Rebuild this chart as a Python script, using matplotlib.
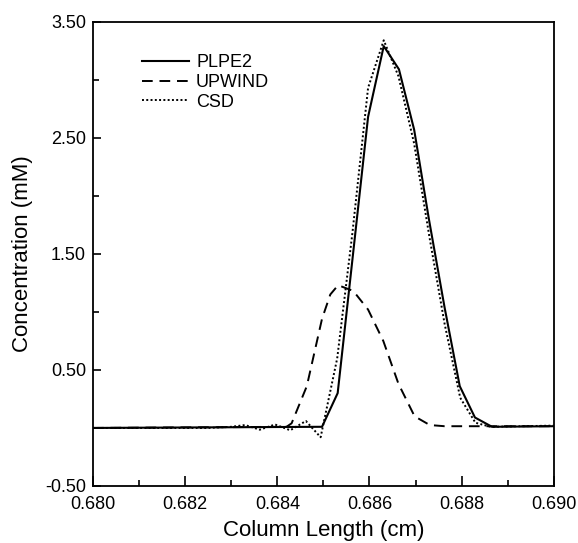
import numpy as np
import matplotlib
matplotlib.use("Agg")
import matplotlib.pyplot as plt
from matplotlib.ticker import MultipleLocator, FormatStrFormatter

plt.rcParams['font.family'] = ['Liberation Sans', 'DejaVu Sans']
plt.rcParams['axes.unicode_minus'] = False

# PLPE2 (solid)
x_plpe2 = [0.680, 0.68497, 0.68531, 0.68563, 0.68597, 0.68631, 0.68664, 0.68697,
           0.68729, 0.68763, 0.68796, 0.68829, 0.68866, 0.690]
y_plpe2 = [0.000, 0.010, 0.300, 1.450, 2.680, 3.290, 3.090, 2.570,
           1.800, 1.040, 0.360, 0.090, 0.010, 0.015]

# UPWIND (dashed)
x_upwind = [0.680, 0.6842, 0.68431, 0.68464, 0.68497, 0.68515, 0.68532, 0.68565, 0.68597,
            0.6863, 0.68663, 0.68698, 0.68731, 0.68763, 0.690]
y_upwind = [0.000, 0.010, 0.040, 0.360, 0.940, 1.150, 1.230, 1.180, 1.020,
            0.750, 0.380, 0.100, 0.025, 0.015, 0.015]

# CSD (dotted)
x_csd = [0.680, 0.6825, 0.6830, 0.6833, 0.68362, 0.68395, 0.68428, 0.68462,
         0.68494, 0.6853, 0.68563, 0.68597, 0.68631, 0.68663, 0.68697, 0.6873,
         0.68763, 0.68797, 0.6883, 0.68863, 0.690]
y_csd = [0.000, 0.000, 0.010, 0.025, -0.015, 0.030, -0.020, 0.060,
         -0.080, 0.600, 1.680, 2.930, 3.340, 3.030, 2.450, 1.650,
         0.900, 0.260, 0.045, 0.010, 0.020]

fig = plt.figure(figsize=(5.78, 5.43), dpi=100)
ax = fig.add_axes([0.161, 0.105, 0.797, 0.855])

ax.plot(x_plpe2, y_plpe2, '-', color='black', lw=1.5, label='PLPE2')
ax.plot(x_upwind, y_upwind, color='black', lw=1.4, linestyle=(0, (5.5, 3.5)), label='UPWIND')
ax.plot(x_csd, y_csd, color='black', lw=1.4, linestyle=(0, (1, 1.2)), label='CSD')

ax.set_xlim(0.680, 0.690)
ax.set_ylim(-0.5, 3.5)

ax.xaxis.set_major_locator(MultipleLocator(0.002))
ax.xaxis.set_minor_locator(MultipleLocator(0.001))
ax.xaxis.set_major_formatter(FormatStrFormatter('%.3f'))
ax.set_yticks([-0.5, 0.5, 1.5, 2.5, 3.5])
ax.set_yticks([0.0, 1.0, 2.0, 3.0], minor=True)
ax.yaxis.set_major_formatter(FormatStrFormatter('%.2f'))

ax.tick_params(which='both', direction='in', top=False, right=False, labelsize=13, width=1.2)
ax.tick_params(which='major', length=6)
ax.tick_params(which='minor', length=4.3)
ax.tick_params(axis='x', which='major', length=7, pad=7)
ax.tick_params(axis='y', pad=5)
for s in ax.spines.values():
    s.set_linewidth(1.3)

ax.set_xlabel('Column Length (cm)', fontsize=16, labelpad=5)
ax.set_ylabel('Concentration (mM)', fontsize=16, labelpad=9)

ax.legend(loc='upper left', bbox_to_anchor=(0.106, 0.93), frameon=False, fontsize=13,
          handlelength=2.6, handletextpad=0.4, labelspacing=0.15, borderpad=0, borderaxespad=0)

fig.savefig('out.png', dpi=100)
